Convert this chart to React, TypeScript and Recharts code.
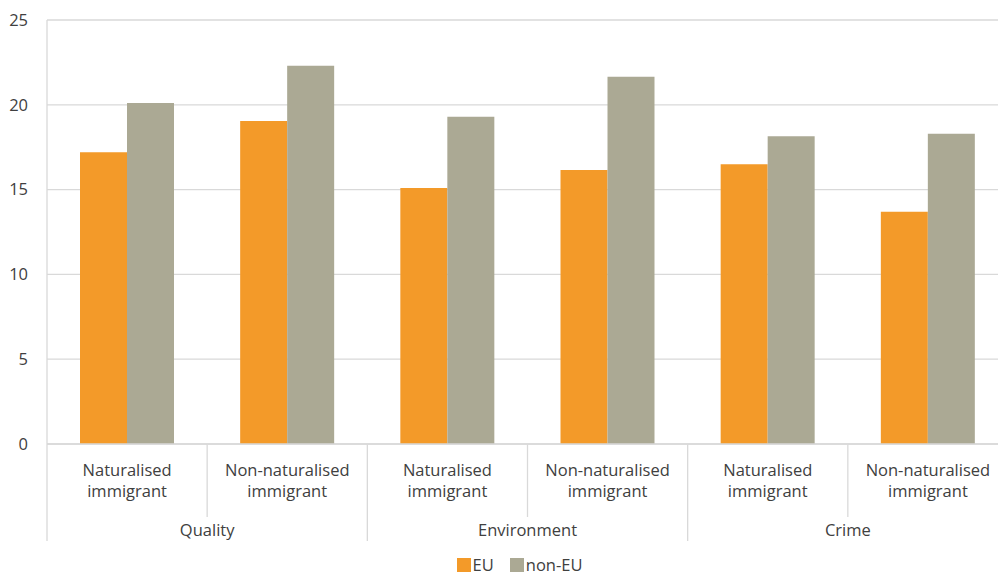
import React from "react";
import { BarChart, Bar, XAxis, YAxis, CartesianGrid, Legend } from "recharts";

// Sub-categories along the x axis, grouped in pairs by topic
const subCategories = [
  "Naturalised immigrant",
  "Non-naturalised immigrant",
  "Naturalised immigrant",
  "Non-naturalised immigrant",
  "Naturalised immigrant",
  "Non-naturalised immigrant",
];
const groups = ["Quality", "Environment", "Crime"];
const euValues = [17.2, 19.05, 15.1, 16.15, 16.5, 13.7];
const nonEuValues = [20.1, 22.3, 19.3, 21.65, 18.15, 18.3];
const yTicks = [0, 5, 10, 15, 20, 25];
const seriesNames = ["EU", "non-EU"];
const seriesColors = ["#F39A29", "#ABA994"];

const data = subCategories.map((sub, i) => ({
  key: `c${i}`,
  sub,
  group: groups[Math.floor(i / 2)],
  eu: euValues[i],
  nonEu: nonEuValues[i],
}));

const CHART_W = 1010;
const CHART_H = 576;
const MARGIN = { top: 20, right: 2, left: 1, bottom: 0 };
const Y_AXIS_W = 46;
const X_AXIS_H = 108;
const LEGEND_H = 24;
const PLOT_W = CHART_W - MARGIN.left - MARGIN.right - Y_AXIS_W;
const BAND = PLOT_W / subCategories.length;

const FONT = "'Open Sans', 'Noto Sans', sans-serif";
const TEXT = "#404040";
const LINE = "#D9D9D9";
const FS = 16.5;

// Two-level category tick: sub-label, separators and the group label
const CategoryTick = (props: any) => {
  const { x, y, payload, index } = props;
  const i = index ?? payload.index;
  const row = data[i];
  const left = x - BAND / 2;
  const words = row.sub.split(" ");
  const lines = [words[0], words.slice(1).join(" ")];
  const top = y - 8;
  return (
    <g>
      <line
        x1={left}
        x2={left}
        y1={top}
        y2={top + (i % 2 === 0 ? 97 : 73)}
        stroke={LINE}
        strokeWidth={1.3}
      />
      {i === data.length - 1 && (
        <line x1={x + BAND / 2} x2={x + BAND / 2} y1={top} y2={top + 97} stroke={LINE} strokeWidth={1.3} />
      )}
      {lines.map((t, k) => (
        <text
          key={k}
          x={x}
          y={top + 32 + k * 21}
          textAnchor="middle"
          fill={TEXT}
          fontSize={FS}
          fontFamily={FONT}
        >
          {t}
        </text>
      ))}
      {i % 2 === 1 && (
        <text x={left} y={top + 92} textAnchor="middle" fill={TEXT} fontSize={FS} fontFamily={FONT}>
          {row.group}
        </text>
      )}
    </g>
  );
};

const LegendContent = () => (
  <div
    style={{
      display: "flex",
      justifyContent: "center",
      alignItems: "center",
      fontFamily: FONT,
      fontSize: FS,
      color: TEXT,
      paddingLeft: 30,
      paddingTop: 1,
    }}
  >
    {seriesNames.map((name, i) => (
      <div key={name} style={{ display: "flex", alignItems: "center", marginRight: i === 0 ? 16 : 0 }}>
        <span style={{ width: 14, height: 14, background: seriesColors[i], display: "inline-block", marginRight: 2 }} />
        <span>{name}</span>
      </div>
    ))}
  </div>
);

export default function App() {
  return (
    <div style={{ position: "absolute", left: 0, top: 0, width: 998, height: 576, overflow: "hidden", background: "#fff" }}>
      <BarChart
        width={CHART_W}
        height={CHART_H}
        data={data}
        margin={MARGIN}
        barGap={0}
        barCategoryGap={33}
      >
        <CartesianGrid vertical={false} stroke={LINE} strokeWidth={1.3} />
        <XAxis
          dataKey="key"
          height={X_AXIS_H}
          axisLine={{ stroke: LINE, strokeWidth: 1.3 }}
          tickLine={false}
          interval={0}
          tick={<CategoryTick />}
        />
        <YAxis
          width={Y_AXIS_W}
          domain={[0, 25]}
          ticks={yTicks}
          axisLine={{ stroke: LINE, strokeWidth: 1.3 }}
          tickLine={false}
          tickSize={6}
          tickMargin={13}
          tick={{ fill: TEXT, fontSize: FS, fontFamily: FONT }}
        />
        <Legend verticalAlign="bottom" height={LEGEND_H} content={<LegendContent />} />
        <Bar dataKey="eu" name={seriesNames[0]} fill={seriesColors[0]} isAnimationActive={false} />
        <Bar dataKey="nonEu" name={seriesNames[1]} fill={seriesColors[1]} isAnimationActive={false} />
      </BarChart>
    </div>
  );
}
